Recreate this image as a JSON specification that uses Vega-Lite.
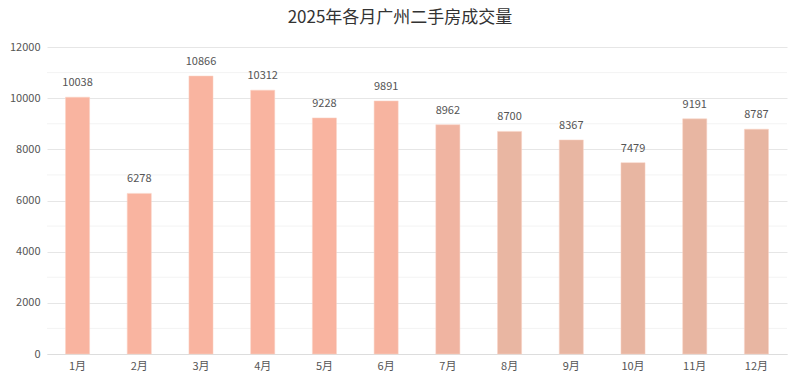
{
  "$schema": "https://vega.github.io/schema/vega-lite/v6.json",
  "width": 740,
  "height": 307,
  "autosize": {"type": "none"},
  "padding": {"left": 47, "top": 47, "right": 13, "bottom": 30},
  "background": "#ffffff",
  "title": {
    "text": "2025年各月广州二手房成交量",
    "fontSize": 17,
    "font": "Noto Sans CJK SC",
    "fontWeight": "normal",
    "color": "#333333",
    "anchor": "middle",
    "dx": -17,
    "offset": 14
  },
  "config": {
    "view": {"stroke": null},
    "font": "Noto Sans CJK SC"
  },
  "data": {
    "values": [
      {"month": "1月", "volume": 10038},
      {"month": "2月", "volume": 6278},
      {"month": "3月", "volume": 10866},
      {"month": "4月", "volume": 10312},
      {"month": "5月", "volume": 9228},
      {"month": "6月", "volume": 9891},
      {"month": "7月", "volume": 8962},
      {"month": "8月", "volume": 8700},
      {"month": "9月", "volume": 8367},
      {"month": "10月", "volume": 7479},
      {"month": "11月", "volume": 9191},
      {"month": "12月", "volume": 8787}
    ]
  },
  "encoding": {
    "x": {
      "field": "month",
      "type": "nominal",
      "sort": null,
      "scale": {"paddingInner": 0.61, "paddingOuter": 0.3},
      "axis": {
        "title": null,
        "labelAngle": 0,
        "labelFontSize": 11,
        "labelColor": "#555555",
        "labelPadding": 6,
        "ticks": false,
        "domainColor": "#dddddd",
        "grid": false
      }
    },
    "y": {
      "field": "volume",
      "type": "quantitative",
      "scale": {"domain": [0, 12000], "nice": false},
      "axis": {
        "title": null,
        "values": [0, 2000, 4000, 6000, 8000, 10000, 12000],
        "format": "d",
        "labelFontSize": 11,
        "labelColor": "#555555",
        "labelPadding": 7,
        "ticks": false,
        "domain": false,
        "gridColor": "#e6e6e6"
      }
    }
  },
  "layer": [
    {
      "mark": {"type": "rule", "color": "#f3f3f3", "strokeWidth": 1},
      "data": {"values": [{"g": 1000}, {"g": 3000}, {"g": 5000}, {"g": 7000}, {"g": 9000}, {"g": 11000}]},
      "encoding": {
        "x": null,
        "y": {"field": "g", "type": "quantitative"}
      }
    },
    {
      "mark": {"type": "bar", "strokeWidth": 1, "strokeOpacity": 0.5, "stroke": "#fbd3c6"},
      "encoding": {
        "color": {
          "field": "month",
          "type": "nominal",
          "sort": null,
          "legend": null,
          "scale": {
            "range": ["#f9b4a0", "#f9b4a0", "#f9b4a0", "#f9b4a0", "#f9b4a0", "#f7b4a0", "#f0b4a1", "#e9b6a2", "#e8b6a2", "#e8b6a2", "#e8b6a2", "#e8b6a2"]
          }
        }
      }
    },
    {
      "mark": {"type": "text", "dy": -14, "fontSize": 11, "color": "#555555"},
      "encoding": {"text": {"field": "volume", "type": "quantitative", "format": "d"}}
    }
  ]
}
